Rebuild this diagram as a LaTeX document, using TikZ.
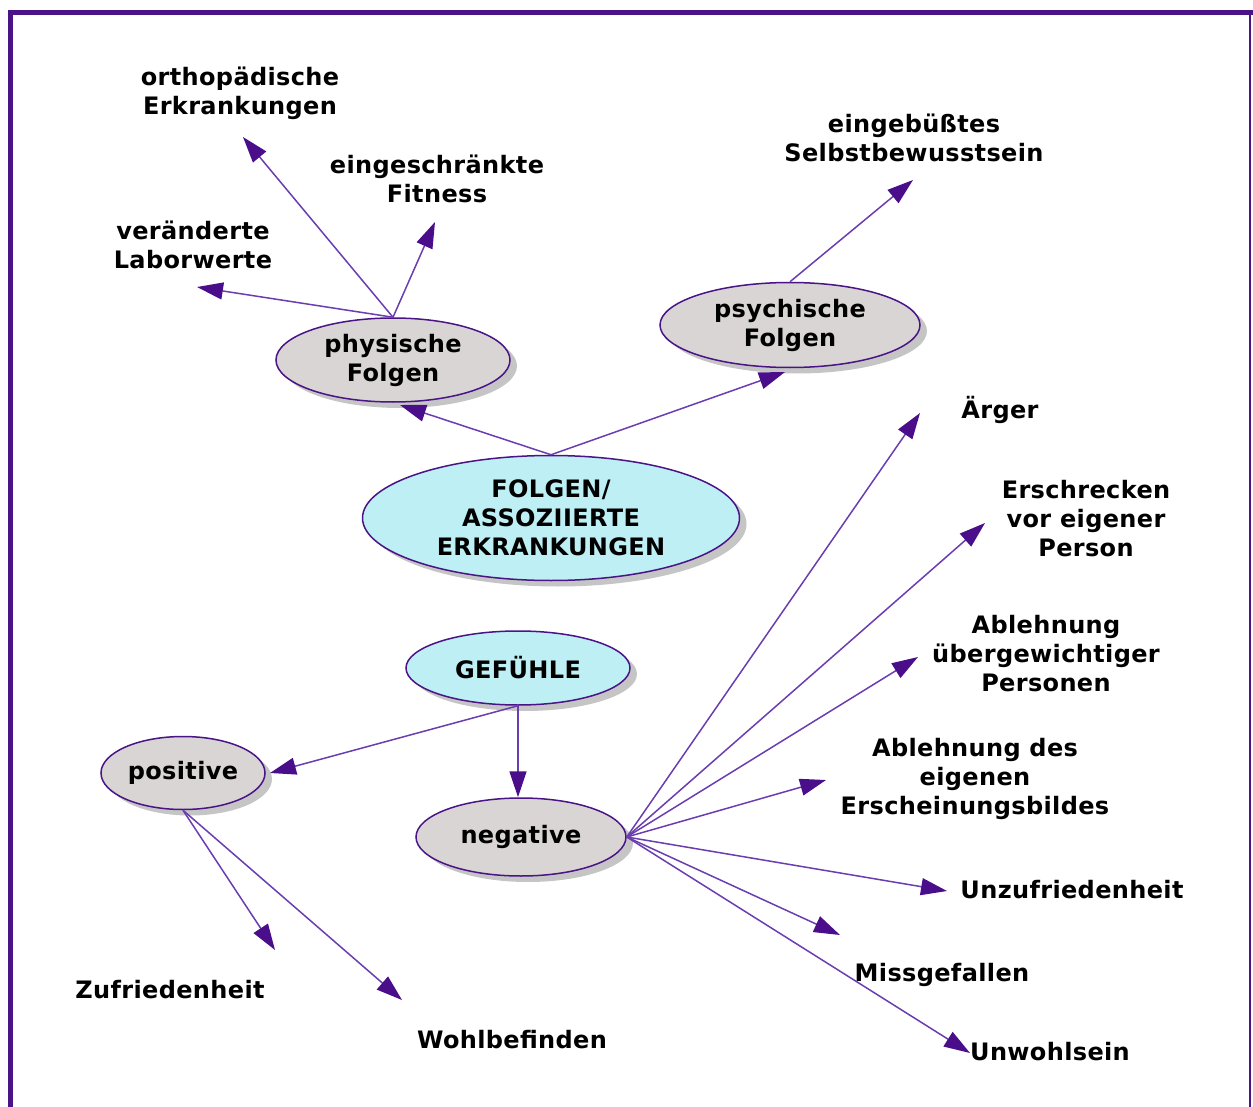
\documentclass[tikz,border=0pt]{standalone}
\usepackage{fontspec}
\setmainfont[LetterSpace=1.5]{DejaVu Sans}
\usetikzlibrary{arrows.meta,shapes,shadows}
\definecolor{rand}{HTML}{4A1486}
\definecolor{linie}{HTML}{6A3DB0}
\definecolor{spitze}{HTML}{4B0E8A}
\definecolor{grau}{HTML}{D9D5D5}
\definecolor{hellblau}{HTML}{BDEFF5}

\begin{document}
\begin{tikzpicture}[x=0.5pt,y=-0.5pt]
	\tikzstyle{every node}=[font=\bfseries\fontsize{12}{14.5}\selectfont, align=center]
	\tikzstyle{oval}=[ellipse, draw=rand, line width=0.75pt, inner sep=0pt, drop shadow={shadow xshift=3.5pt, shadow yshift=-3pt, fill=black!45}]
	\tikzstyle{grauoval}=[oval, fill=grau]
	\tikzstyle{blauoval}=[oval, fill=hellblau]
	\tikzstyle{pfeil}=[line width=0.75pt, draw=linie, -{Triangle[length=13pt,width=8.5pt,color=spitze]}]
	\useasboundingbox (0,0) rectangle (1253,1107);
	\draw [rand, line width=2.5pt] (10.5,1107) -- (10.5,12.5) -- (1253,12.5);
	\draw [rand, line width=1pt] (1250,12.5) -- (1250,1107);
	\node [blauoval, minimum width=188.5pt, minimum height=62.5pt] (folg) at (551,518) {FOLGEN/\\ASSOZIIERTE\\ERKRANKUNGEN};
	\node [grauoval, minimum width=117pt, minimum height=42pt] (phys) at (393,360) {physische\\Folgen};
	\node [grauoval, minimum width=130pt, minimum height=42.5pt] (psy) at (790,325) {psychische\\Folgen};
	\node [blauoval, minimum width=112pt, minimum height=37pt] (gef) at (518,668) {GEFÜHLE};
	\node [grauoval, minimum width=82pt, minimum height=36.5pt] (pos) at (183,773) {positive};
	\node [grauoval, minimum width=105pt, minimum height=39pt] (neg) at (521,837) {negative};
	\node (orth) at (240,93) {orthopädische\\Erkrankungen};
	\node (fit) at (437,179) {eingeschränkte\\Fitness};
	\node (lab) at (193,245) {veränderte\\Laborwerte};
	\node (selbst) at (914,138) {eingebüßtes\\Selbstbewusstsein};
	\node (aerger) at (1000,410) {Ärger};
	\node (ersch) at (1086,519) {Erschrecken\\vor eigener\\Person};
	\node (ablpers) at (1046,654) {Ablehnung\\übergewichtiger\\Personen};
	\node (ablbild) at (975,779) {Ablehnung des\\eigenen\\Erscheinungsbildes};
	\node (unzuf) at (1072,890) {Unzufriedenheit};
	\node (miss) at (942,975) {Missgefallen};
	\node (unwohl) at (1050,1052) {Unwohlsein};
	\node (zuf) at (170,990) {Zufriedenheit};
	\node (wohl) at (512,1040) {Wohlbefinden};
	\draw [pfeil] (phys.north) -- ([shift={(3,44)}]orth.center);
	\draw [pfeil] (phys.north) -- ([shift={(-2,43)}]fit.center);
	\draw [pfeil] (phys.north) -- ([shift={(4,42)}]lab.center);
	\draw [pfeil] (folg.north) -- ([shift={(7,45)}]phys.center);
	\draw [pfeil] (folg.north) -- ([shift={(-5,47)}]psy.center);
	\draw [pfeil] (psy.north) -- ([shift={(-1,42)}]selbst.center);
	\draw [pfeil] (gef.south) -- ([shift={(87,0)}]pos.center);
	\draw [pfeil] (gef.south) -- (gef.south |- neg.north);
	\draw [pfeil] (pos.south) -- ([shift={(105,-40)}]zuf.center);
	\draw [pfeil] (pos.south) -- ([shift={(-110,-40)}]wohl.center);
	\draw [pfeil] (neg.east) -- ([shift={(-80,3)}]aerger.center);
	\draw [pfeil] (neg.east) -- ([shift={(-101,4)}]ersch.center);
	\draw [pfeil] (neg.east) -- ([shift={(-128,3)}]ablpers.center);
	\draw [pfeil] (neg.east) -- ([shift={(-149,1)}]ablbild.center);
	\draw [pfeil] (neg.east) -- ([shift={(-125,1)}]unzuf.center);
	\draw [pfeil] (neg.east) -- ([shift={(-102,-40)}]miss.center);
	\draw [pfeil] (neg.east) -- ([shift={(-80,1)}]unwohl.center);
\end{tikzpicture}
\end{document}
